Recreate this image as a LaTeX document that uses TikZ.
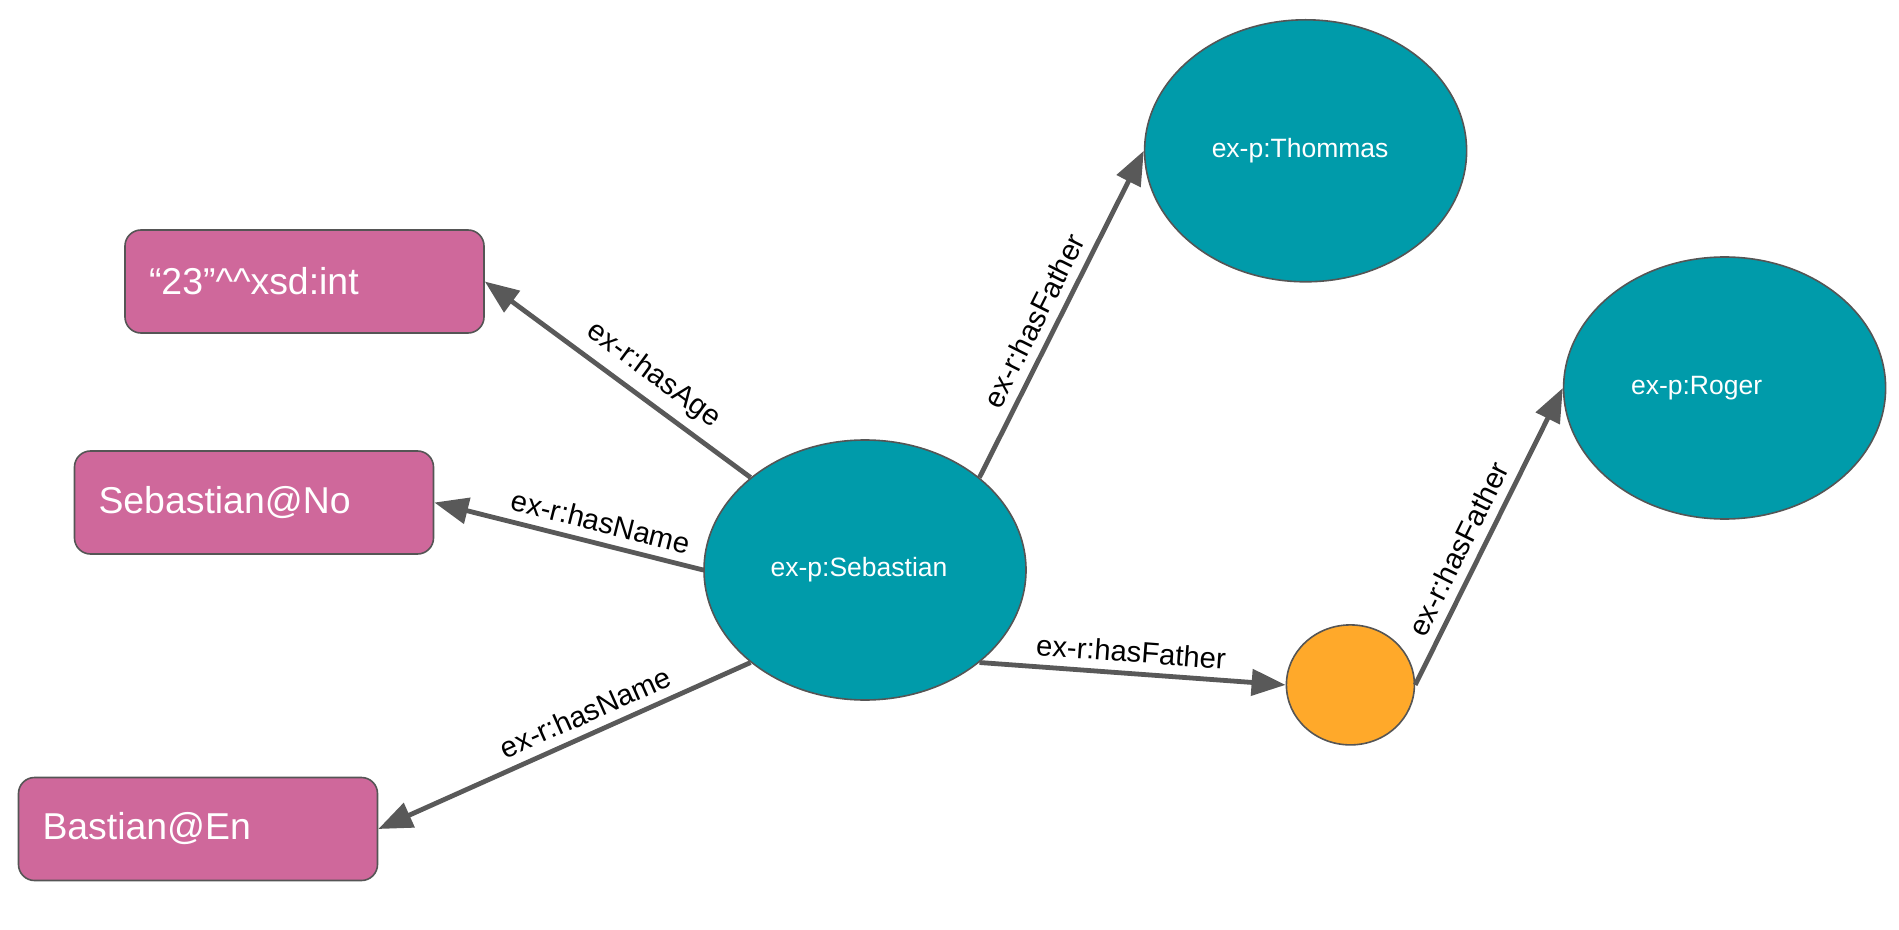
\documentclass[tikz,border=0pt]{standalone}
\usepackage{fontspec}
\setmainfont{Liberation Sans}
\usetikzlibrary{arrows.meta,shapes.geometric}
\definecolor{nodeteal}{RGB}{0,155,170}
\definecolor{litpink}{RGB}{207,104,155}
\definecolor{blankorange}{RGB}{255,169,42}
\definecolor{edgegray}{RGB}{89,89,89}
\definecolor{bordergray}{RGB}{85,85,85}
\begin{document}
\begin{tikzpicture}[x=0.5pt,y=-0.5pt,
  literal/.style={draw=bordergray, line width=0.8pt, fill=litpink, rounded corners=8pt,
    minimum width=179.5pt, minimum height=51.5pt, text width=155.5pt, align=left,
    inner xsep=12pt, text=white, font=\fontsize{18.7}{22}\selectfont},
  resource/.style={ellipse, draw=bordergray, line width=0.8pt, fill=nodeteal,
    minimum width=161pt, minimum height=130pt, inner sep=0pt, text=white,
    font=\fontsize{13.25}{15}\selectfont},
  blank/.style={ellipse, draw=bordergray, line width=0.8pt, fill=blankorange,
    minimum width=64pt, minimum height=60pt, inner sep=0pt},
  rel/.style={draw=edgegray, line width=2.4pt, -{Triangle[length=17pt,width=13pt]}},
  rellabel/.style={sloped, above=1pt, font=\fontsize{14.6}{17}\selectfont, text=black}
]
\useasboundingbox (0,0) rectangle (1899,930);

\node[literal] (age) at (304.5,281.5) {“23”\textasciicircum\textasciicircum xsd:int};
\node[literal] (nameno) at (254,502.5) {Sebastian@No};
\node[literal] (nameen) at (198,829) {Bastian@En};

\node[resource] (seb) at (865,570) {ex-p:Sebastian\hspace*{6pt}};
\node[resource, minimum height=131pt] (thom) at (1305.6,150.8) {ex-p:Thommas\hspace*{5.5pt}};
\node[resource, minimum height=131pt] (roger) at (1724.6,388) {ex-p:Roger\hspace*{28pt}};
\node[blank] (bn) at (1350.4,684.9) {};

\draw[rel] (seb.north west) -- node[rellabel, pos=0.42] {ex-r:hasAge} (age.east);
\draw[rel] (seb.west) -- node[rellabel, pos=0.40] {ex-r:hasName} (nameno.east);
\draw[rel] (seb.south west) -- node[rellabel, pos=0.42] {ex-r:hasName} (nameen.east);
\draw[rel] (seb.north east) -- node[rellabel, pos=0.45] {ex-r:hasFather} (thom.west);
\draw[rel] (seb.south east) -- node[rellabel, pos=0.49] {ex-r:hasFather} (bn.west);
\draw[rel] (bn.east) -- node[rellabel, pos=0.425] {ex-r:hasFather} (roger.west);
\end{tikzpicture}
\end{document}
